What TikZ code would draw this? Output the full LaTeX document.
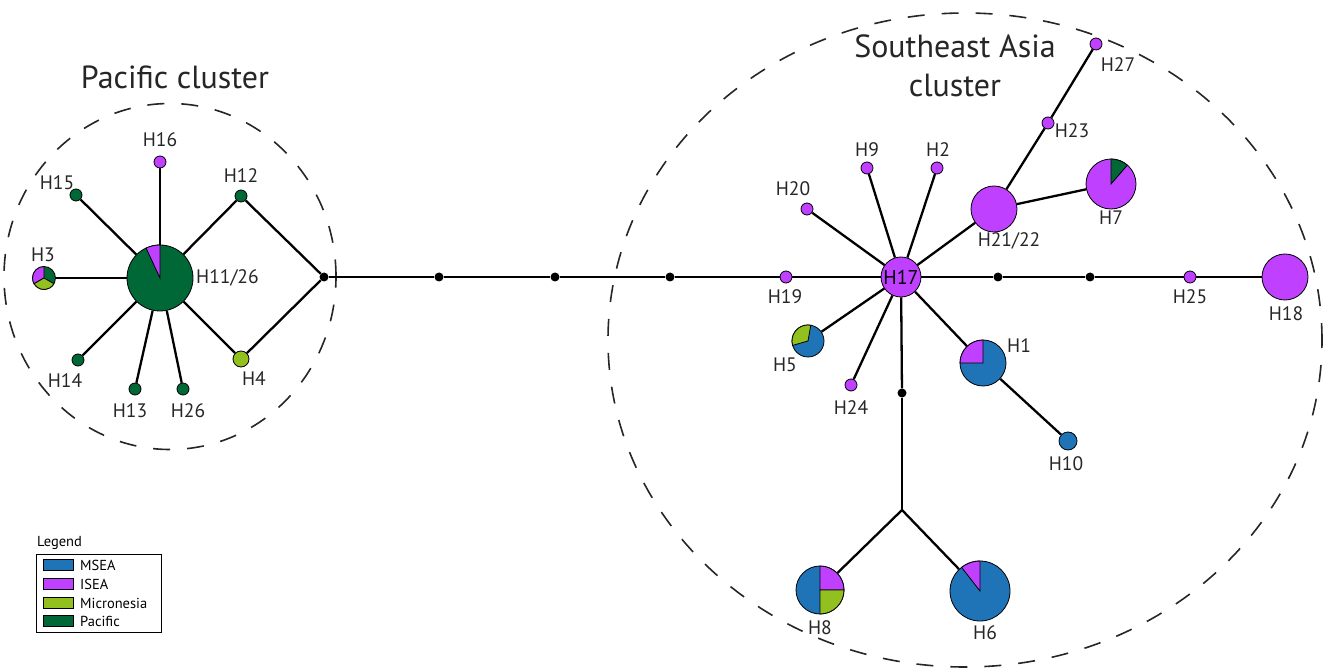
\documentclass[tikz,border=0pt]{standalone}
\usepackage{fontspec}
\setmainfont{PT Sans}
\usetikzlibrary{arrows.meta}
\definecolor{msea}{RGB}{31,115,183}
\definecolor{isea}{RGB}{191,64,255}
\definecolor{micro}{RGB}{146,192,31}
\definecolor{pacific}{RGB}{0,104,55}
\tikzstyle{hap-node}=[circle,draw=black,line width=0.8pt,inner sep=0pt]
\tikzstyle{dot-node}=[circle,fill=black,inner sep=0pt,minimum size=9pt]
\tikzstyle{label-node}=[inner sep=0pt,font=\fontsize{19.5}{22}\selectfont,text=black!85]
\tikzstyle{title-node}=[inner sep=0pt,align=center,font=\fontsize{32}{39}\selectfont,text=black!85]
\tikzstyle{black-line}=[draw=black,line width=2.3pt]
\tikzstyle{cluster-line}=[draw=black!85,line width=1.6pt,dash pattern=on 17pt off 17pt]
\tikzstyle{swatch}=[draw=black,line width=0.8pt,minimum width=30pt,minimum height=11pt,inner sep=0pt]
\tikzstyle{legend-text}=[inner sep=0pt,anchor=west,font=\fontsize{14.5}{16}\selectfont]
% slice of a pie node: node, radius, start, end, colour
\newcommand{\hapslice}[5]{\filldraw[fill=#5,draw=black,line width=0.8pt] (#1.center) -- ++(#3:#2pt) arc[start angle=#3,end angle=#4,radius=#2pt] -- cycle;}
\begin{document}
\begin{tikzpicture}[x=1pt,y=1pt]
	\useasboundingbox (0,0) rectangle (1327,670);

	% clusters
	\begin{scope}
	\draw[cluster-line] (170,393.5) ellipse [x radius=166, y radius=173];
	\draw[cluster-line] (965,330) ellipse [x radius=357, y radius=327];
	\node (tpac)[title-node] at (175,593) {Pacific cluster};
	\node (tsea)[title-node] at (955,604) {Southeast Asia\\cluster};
	\end{scope}

	% Pacific haplotypes
	\begin{scope}
	\node (h11)[hap-node,fill=pacific,minimum size=66pt] at (160,392) {};
	\node (h3)[hap-node,fill=pacific,minimum size=23pt] at (44,392) {};
	\node (h16)[hap-node,fill=isea,minimum size=12pt] at (160,508) {};
	\node (h15)[hap-node,fill=pacific,minimum size=12pt] at (76,475) {};
	\node (h12)[hap-node,fill=pacific,minimum size=12pt] at (241,474) {};
	\node (h14)[hap-node,fill=pacific,minimum size=12pt] at (78,310) {};
	\node (h13)[hap-node,fill=pacific,minimum size=12pt] at (135,281) {};
	\node (h26)[hap-node,fill=pacific,minimum size=12pt] at (183,281) {};
	\node (h4)[hap-node,fill=micro,minimum size=16pt] at (241,311) {};
	\end{scope}

	% median vectors
	\begin{scope}
	\node (j1)[dot-node] at (324,393) {};
	\node (j2)[dot-node] at (439,393) {};
	\node (j3)[dot-node] at (555,393) {};
	\node (j4)[dot-node] at (670,393) {};
	\node (j5)[dot-node] at (998,393) {};
	\node (j6)[dot-node] at (1090,393) {};
	\node (j7)[dot-node] at (902,277) {};
	\coordinate (fork) at (902,160);
	\end{scope}

	% Southeast Asia haplotypes
	\begin{scope}
	\node (h17)[hap-node,fill=isea,minimum size=40pt,font=\fontsize{20}{22}\selectfont] at (901,393) {H17};
	\node (h19)[hap-node,fill=isea,minimum size=12pt] at (786,393) {};
	\node (h20)[hap-node,fill=isea,minimum size=12pt] at (807,461) {};
	\node (h9)[hap-node,fill=isea,minimum size=12pt] at (867,502) {};
	\node (h2)[hap-node,fill=isea,minimum size=12pt] at (937,502) {};
	\node (h21)[hap-node,fill=isea,minimum size=46pt] at (994,461) {};
	\node (h23)[hap-node,fill=isea,minimum size=12pt] at (1048,547) {};
	\node (h27)[hap-node,fill=isea,minimum size=12pt] at (1096,626) {};
	\node (h7)[hap-node,fill=isea,minimum size=50pt] at (1111,486) {};
	\node (h25)[hap-node,fill=isea,minimum size=12pt] at (1190,393) {};
	\node (h18)[hap-node,fill=isea,minimum size=46pt] at (1285,393) {};
	\node (h5)[hap-node,fill=msea,minimum size=32pt] at (808,329) {};
	\node (h24)[hap-node,fill=isea,minimum size=12pt] at (851,285) {};
	\node (h1)[hap-node,fill=msea,minimum size=46pt] at (983,307) {};
	\node (h10)[hap-node,fill=msea,minimum size=18pt] at (1068,229) {};
	\node (h8)[hap-node,fill=msea,minimum size=48pt] at (820,80) {};
	\node (h6)[hap-node,fill=msea,minimum size=60pt] at (980,79) {};
	\end{scope}

	% pie slices
	\hapslice{h11}{33}{90}{115}{isea}
	\hapslice{h3}{11.5}{90}{210}{isea}
	\hapslice{h3}{11.5}{210}{330}{micro}
	\hapslice{h5}{16}{80}{196}{micro}
	\hapslice{h1}{23}{90}{180}{isea}
	\hapslice{h7}{25}{49}{90}{pacific}
	\hapslice{h8}{24}{0}{90}{isea}
	\hapslice{h8}{24}{270}{360}{micro}
	\hapslice{h6}{30}{90}{128}{isea}

	\begin{scope}[every edge/.style=black-line]
	\path (h11) edge (h3) edge (h16) edge (h15) edge (h12) edge (h14) edge (h13) edge (h26) edge (h4);
	\path (h12) edge (j1);
	\path (h4) edge (j1);
	\path (j1) edge (j2);
	\path (j2) edge (j3);
	\path (j3) edge (j4);
	\path (j4) edge (h19);
	\path (h19) edge (h17);
	\path (h17) edge (h20) edge (h9) edge (h2) edge (h21) edge (j5) edge (h1) edge (j7) edge (h24) edge (h5);
	\path (h21) edge (h23);
	\path (h23) edge (h27);
	\path (h21) edge (h7);
	\path (j5) edge (j6);
	\path (j6) edge (h25);
	\path (h25) edge (h18);
	\path (h1) edge (h10);
	\path (j7) edge (fork);
	\path (fork) edge (h8);
	\path (fork) edge (h6);
	\end{scope}

	% haplotype labels
	\begin{scope}
	\node (l16)[label-node] at (160,530) {H16};
	\node (l15)[label-node] at (57,487) {H15};
	\node (l12)[label-node] at (241,494) {H12};
	\node (l3)[label-node] at (43,415) {H3};
	\node (l11)[label-node,anchor=west] at (196,392) {H11/26};
	\node (l14)[label-node] at (65,289) {H14};
	\node (l13)[label-node] at (130,259) {H13};
	\node (l26)[label-node] at (188,259) {H26};
	\node (l4)[label-node] at (254,291) {H4};
	\node (l19)[label-node] at (785,373) {H19};
	\node (l20)[label-node] at (793,481) {H20};
	\node (l9)[label-node] at (867,520) {H9};
	\node (l2)[label-node] at (938,520) {H2};
	\node (l21)[label-node] at (1009,429) {H21/22};
	\node (l23)[label-node] at (1072,539) {H23};
	\node (l27)[label-node] at (1118,605) {H27};
	\node (l7)[label-node] at (1111,452) {H7};
	\node (l25)[label-node] at (1190,373) {H25};
	\node (l18)[label-node] at (1286,356) {H18};
	\node (l5)[label-node] at (785,305) {H5};
	\node (l24)[label-node] at (851,262) {H24};
	\node (l1)[label-node,anchor=west] at (1007,324) {H1};
	\node (l10)[label-node] at (1066,206) {H10};
	\node (l8)[label-node] at (820,42) {H8};
	\node (l6)[label-node] at (985,37) {H6};
	\end{scope}

	% legend
	\begin{scope}
	\node (leg)[legend-text] at (37,127) {Legend};
	\draw[line width=0.8pt] (36,116) rectangle (161,38);
	\node (s1)[swatch,fill=msea] at (58,105) {};
	\node (s2)[swatch,fill=isea] at (58,86) {};
	\node (s3)[swatch,fill=micro] at (58,67) {};
	\node (s4)[swatch,fill=pacific] at (58,49) {};
	\node (t1)[legend-text] at (80,105) {MSEA};
	\node (t2)[legend-text] at (80,86) {ISEA};
	\node (t3)[legend-text] at (80,67) {Micronesia};
	\node (t4)[legend-text] at (80,49) {Pacific};
	\end{scope}
\end{tikzpicture}
\end{document}
